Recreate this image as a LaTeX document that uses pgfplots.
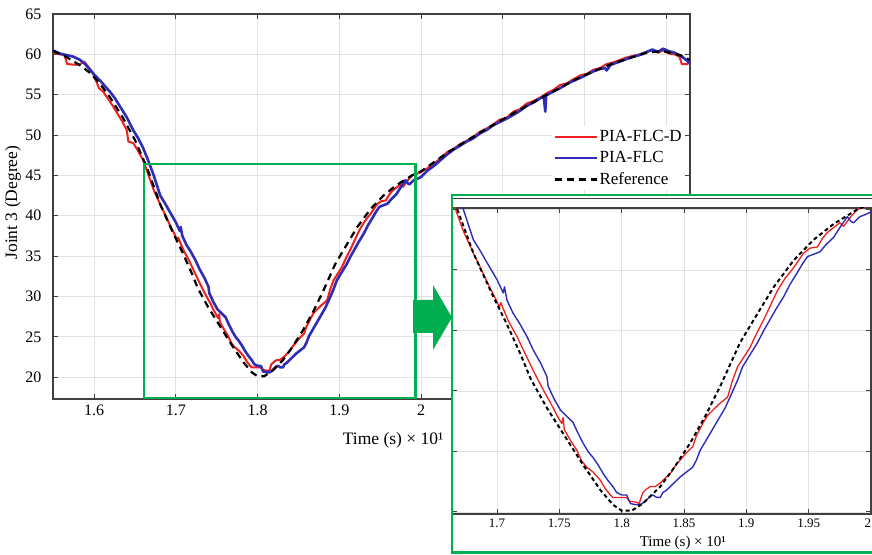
\documentclass[border=0pt]{standalone}
\usepackage{fontspec}
\setmainfont{Liberation Serif}
\usepackage{pgfplots}
\pgfplotsset{compat=1.18}
\usepackage{pgfplotstable}

\definecolor{flcd}{RGB}{240,32,32}
\definecolor{flc}{RGB}{45,45,185}
\definecolor{zoomgreen}{RGB}{0,176,80}
\definecolor{gridgray}{RGB}{226,226,226}
\definecolor{axisgray}{RGB}{64,64,64}

% reference trajectory of joint 3
\pgfplotstableread{
x y
1.550 60.4
1.562 59.9
1.574 59.2
1.585 58.5
1.595 57.7
1.607 56.4
1.620 54.6
1.635 52.2
1.650 49.4
1.665 45.9
1.681 41.4
1.697 37.8
1.708 35.5
1.719 33.0
1.727 31.0
1.740 28.6
1.756 26.0
1.769 23.9
1.783 21.8
1.793 20.6
1.800 20.1
1.808 20.1
1.817 20.7
1.831 22.1
1.841 23.5
1.855 25.7
1.868 28.1
1.880 30.6
1.895 34.0
1.909 36.4
1.922 38.6
1.938 40.8
1.954 42.5
1.970 43.8
1.989 45.0
2.000 45.5
2.032 47.8
2.072 50.3
2.113 52.7
2.154 55.0
2.195 57.2
2.235 58.9
2.276 60.2
2.296 60.4
2.317 59.9
2.329 59.3
}\refdata

% PIA-FLC-D response
\pgfplotstableread{
x y
1.550 60.2
1.558 60.0
1.564 59.9
1.567 58.8
1.578 58.7
1.583 58.8
1.588 59.1
1.592 58.6
1.598 57.8
1.603 56.6
1.606 55.8
1.611 55.4
1.617 54.5
1.623 53.6
1.629 52.6
1.635 51.6
1.640 50.6
1.642 49.2
1.648 49.0
1.654 48.0
1.660 46.9
1.665 45.5
1.673 43.2
1.681 41.4
1.688 39.9
1.694 38.6
1.699 37.6
1.702 36.9
1.703 37.3
1.709 35.8
1.716 34.5
1.722 33.2
1.729 31.7
1.736 30.3
1.743 29.0
1.748 28.0
1.752 27.3
1.753 27.8
1.754 26.8
1.759 25.9
1.764 25.1
1.768 24.2
1.772 23.7
1.777 23.3
1.783 22.6
1.787 21.9
1.791 21.4
1.793 21.2
1.799 21.2
1.804 21.2
1.806 20.9
1.812 20.8
1.814 20.7
1.817 21.6
1.820 21.9
1.823 22.1
1.827 22.1
1.831 22.4
1.835 22.8
1.839 23.2
1.843 23.8
1.847 24.3
1.852 24.9
1.857 25.4
1.860 26.3
1.865 27.3
1.869 28.0
1.873 28.4
1.878 28.9
1.885 29.5
1.889 30.9
1.893 32.0
1.898 32.8
1.903 33.6
1.908 34.7
1.914 35.9
1.919 37.0
1.925 38.3
1.931 39.3
1.938 40.2
1.946 41.4
1.951 41.8
1.957 41.9
1.961 42.6
1.965 43.1
1.970 43.5
1.975 43.9
1.978 43.6
1.983 44.3
1.989 45.0
1.995 45.2
2.000 45.4
2.008 45.9
2.016 46.5
2.024 47.1
2.032 47.9
2.040 48.3
2.048 48.9
2.056 49.3
2.064 49.8
2.072 50.4
2.080 50.8
2.088 51.3
2.096 51.9
2.104 52.1
2.113 52.9
2.121 53.2
2.129 53.9
2.137 54.2
2.145 54.6
2.154 55.2
2.162 55.6
2.170 56.2
2.178 56.4
2.186 56.9
2.195 57.4
2.203 57.6
2.211 58.1
2.219 58.3
2.227 58.8
2.235 59.0
2.243 59.3
2.251 59.6
2.259 59.8
2.267 60.0
2.276 60.3
2.283 60.5
2.290 60.2
2.296 60.5
2.303 60.1
2.310 60.0
2.316 59.7
2.319 58.8
2.326 58.8
2.329 59.3
}\flcddata

% PIA-FLC response
\pgfplotstableread{
x y
1.550 60.5
1.558 60.1
1.567 59.9
1.575 59.7
1.583 59.3
1.589 58.8
1.595 58.1
1.601 57.4
1.607 56.8
1.613 56.1
1.620 55.3
1.626 54.5
1.632 53.5
1.640 52.2
1.648 50.6
1.654 49.6
1.660 48.4
1.666 46.9
1.673 45.0
1.681 42.5
1.687 41.5
1.692 40.6
1.700 39.2
1.705 38.1
1.706 38.6
1.708 37.5
1.713 36.4
1.718 35.6
1.724 34.5
1.729 33.4
1.735 32.3
1.740 31.2
1.741 30.4
1.746 29.3
1.751 28.4
1.756 27.9
1.761 27.4
1.765 26.5
1.769 25.7
1.773 25.0
1.777 24.5
1.781 23.9
1.785 23.2
1.789 22.6
1.793 22.1
1.796 21.6
1.800 21.4
1.804 21.4
1.807 20.7
1.811 20.6
1.815 20.6
1.818 20.8
1.820 21.0
1.823 21.3
1.825 21.4
1.828 21.2
1.831 21.2
1.833 21.6
1.836 21.8
1.839 22.1
1.843 22.5
1.847 22.9
1.852 23.3
1.857 23.7
1.860 24.3
1.863 25.1
1.867 25.8
1.871 26.5
1.875 27.2
1.879 27.9
1.883 28.6
1.887 29.5
1.890 30.2
1.893 30.9
1.897 32.0
1.903 33.0
1.909 34.0
1.914 35.0
1.919 35.9
1.924 36.8
1.930 37.8
1.935 38.8
1.941 39.8
1.945 40.5
1.949 41.1
1.954 41.3
1.959 41.5
1.964 42.1
1.970 42.7
1.975 43.5
1.981 44.4
1.984 44.0
1.986 43.9
1.991 44.4
1.996 44.6
2.000 44.8
2.008 45.6
2.016 46.2
2.024 46.9
2.032 47.6
2.040 48.2
2.048 48.7
2.056 49.2
2.064 49.6
2.072 50.2
2.080 50.6
2.088 51.2
2.096 51.6
2.104 52.0
2.113 52.5
2.121 53.0
2.129 53.6
2.137 54.0
2.145 54.5
2.150 54.8
2.152 52.9
2.153 54.9
2.162 55.4
2.170 55.8
2.178 56.3
2.186 56.7
2.195 57.1
2.203 57.5
2.211 57.9
2.219 58.2
2.225 58.3
2.227 58.0
2.232 58.7
2.243 59.1
2.251 59.4
2.259 59.7
2.267 59.9
2.276 60.3
2.283 60.6
2.290 60.3
2.296 60.7
2.303 60.4
2.310 60.2
2.316 59.9
2.322 59.5
2.329 58.9
}\flcdata

\pgfplotsset{
  matlabbox/.style={
    scale only axis,
    grid=major,
    major grid style={gridgray, line width=0.8pt},
    axis line style={axisgray, line width=1.1pt},
    tick style={axisgray, line width=1pt},
    tick align=inside,
    major tick length=5pt,
    tick label style={/pgf/number format/assume math mode=true},
    clip=true,
  },
}

\begin{document}
\begin{tikzpicture}[x=1pt,y=1pt]
\useasboundingbox (0,0) rectangle (872,554);

% ---------------- main plot ----------------
\begin{axis}[
  matlabbox,
  at={(53pt,155pt)}, anchor=south west,
  width=637pt, height=385pt,
  xmin=1.5498, xmax=2.329,
  ymin=17.29, ymax=65,
  xtick={1.6,1.7,1.8,1.9,2,2.1,2.2,2.3},
  ytick={20,25,30,35,40,45,50,55,60,65},
  xticklabel style={font=\fontsize{16}{16}\selectfont, yshift=-2pt},
  yticklabel style={font=\fontsize{16}{16}\selectfont, xshift=-8pt},
  xlabel={Time (s) × 10¹},
  ylabel={Joint 3 (Degree)},
  xlabel style={font=\fontsize{17.5}{18}\selectfont, at={(axis description cs:0.534,-0.106)}, anchor=center},
  ylabel style={font=\fontsize{17.5}{18}\selectfont, at={(axis description cs:-0.063,0.51)}, anchor=center},
  legend style={at={(rel axis cs:0.783,0.709)}, anchor=north west,
    draw=none, fill=white, inner xsep=2pt, inner ysep=3pt,
    font=\fontsize{17}{19}\selectfont, row sep=6.5pt,
    nodes={inner xsep=1pt, inner ysep=1pt}},
  legend cell align=left,
  legend image code/.code={\draw[#1] (0pt,0pt) -- (42pt,0pt);},
]
\addplot[flcd, line width=2pt, line join=round] table {\flcddata};
\addlegendentry{PIA-FLC-D}
\addplot[flc, line width=2.6pt, line join=round] table {\flcdata};
\addlegendentry{PIA-FLC}
\addplot[black, line width=2.2pt, dash pattern=on 7pt off 5pt] table {\refdata};
\addlegendentry{Reference}
% zoomed region
\draw[zoomgreen, line width=2.4pt] (axis cs:1.661,17.45) rectangle (axis cs:1.993,46.4);
\end{axis}

% arrow pointing to the enlarged view
\fill[zoomgreen] (413,221) -- (433,221) -- (433,204) -- (452,236.5)
  -- (433,269) -- (433,254) -- (413,254) -- cycle;

% ---------------- enlarged view ----------------
\fill[white] (452,0) rectangle (880,359);
\draw[axisgray, line width=0.8pt] (452,356) -- (880,356);

\begin{axis}[
  matlabbox,
  at={(452pt,40pt)}, anchor=south west,
  width=419pt, height=306pt,
  xmin=1.6639, xmax=2.0,
  ymin=19.83, ymax=45.12,
  xtick={1.7,1.75,1.8,1.85,1.9,1.95,2},
  xticklabels={1.7,1.75,1.8,1.85,1.9,1.95,\llap{2}},
  ytick={20,25,30,35,40,45},
  yticklabels={},
  xticklabel style={font=\fontsize{13}{13}\selectfont, yshift=-1pt},
  xlabel={Time (s) × 10¹},
  xlabel style={font=\fontsize{15}{15}\selectfont, at={(axis description cs:0.551,-0.095)}, anchor=center},
]
\addplot[flcd, line width=1.3pt, line join=round] table {\flcddata};
\addplot[flc, line width=1.4pt, line join=round] table {\flcdata};
\addplot[black, line width=2pt, dash pattern=on 4pt off 3pt] table {\refdata};
\end{axis}

\draw[zoomgreen, line width=2.4pt] (452,1.5) rectangle (880,359);
\end{tikzpicture}
\end{document}
